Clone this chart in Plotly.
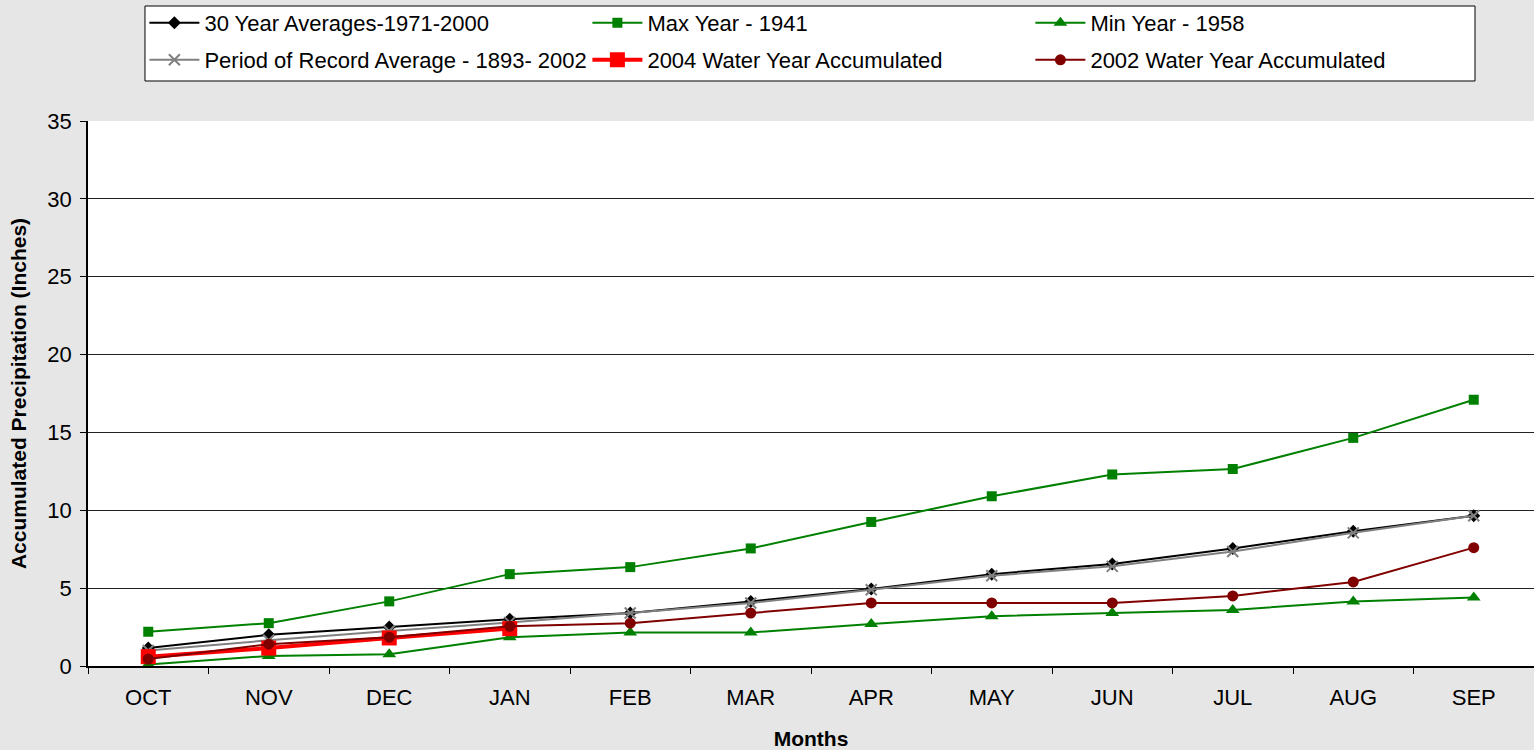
import plotly.graph_objects as go

months = ["OCT", "NOV", "DEC", "JAN", "FEB", "MAR", "APR", "MAY", "JUN", "JUL", "AUG", "SEP"]

avg_30yr = [1.15, 2.0, 2.5, 3.0, 3.4, 4.15, 4.95, 5.9, 6.55, 7.55, 8.65, 9.65]
max_1941 = [2.2, 2.75, 4.15, 5.9, 6.35, 7.55, 9.25, 10.9, 12.3, 12.65, 14.65, 17.1]
min_1958 = [0.1, 0.65, 0.75, 1.85, 2.15, 2.15, 2.7, 3.2, 3.4, 3.6, 4.15, 4.4]
por_avg = [1.0, 1.65, 2.25, 2.8, 3.4, 4.05, 4.9, 5.8, 6.4, 7.35, 8.55, 9.65]
wy_2004 = [0.6, 1.15, 1.8, 2.4]
wy_2002 = [0.45, 1.4, 1.85, 2.55, 2.75, 3.4, 4.05, 4.05, 4.05, 4.5, 5.4, 7.6]

names = ["30 Year Averages-1971-2000", "Max Year - 1941", "Min Year - 1958",
         "Period of Record Average - 1893- 2002", "2004 Water Year Accumulated",
         "2002 Water Year Accumulated"]

fig = go.Figure()
# row 1 of legend
fig.add_trace(go.Scatter(x=months, y=avg_30yr, name=names[0], mode="lines+markers", legend="legend",
                         line=dict(color="black", width=2),
                         marker=dict(symbol="diamond", size=10, color="black")))
fig.add_trace(go.Scatter(x=months, y=max_1941, name=names[1], mode="lines+markers", legend="legend",
                         line=dict(color="#008000", width=2),
                         marker=dict(symbol="square", size=10, color="#008000")))
fig.add_trace(go.Scatter(x=months, y=min_1958, name=names[2], mode="lines+markers", legend="legend",
                         line=dict(color="#008000", width=2),
                         marker=dict(symbol="triangle-up", size=12, color="#008000")))
# row 2 of legend
fig.add_trace(go.Scatter(x=months, y=por_avg, name=names[3], mode="lines+markers", legend="legend2",
                         line=dict(color="#808080", width=2),
                         marker=dict(symbol="x-thin", size=11, color="#808080",
                                     line=dict(color="#808080", width=2))))
fig.add_trace(go.Scatter(x=months[:len(wy_2004)], y=wy_2004, name=names[4], mode="lines+markers",
                         legend="legend2",
                         line=dict(color="#ff0000", width=4),
                         marker=dict(symbol="square", size=15, color="#ff0000")))
fig.add_trace(go.Scatter(x=months, y=wy_2002, name=names[5], mode="lines+markers", legend="legend2",
                         line=dict(color="#800000", width=2),
                         marker=dict(symbol="circle", size=11, color="#800000")))

leg_common = dict(
    orientation="h", x=0.039, xanchor="left", yanchor="middle",
    bgcolor="rgba(0,0,0,0)", borderwidth=0,
    entrywidth=378, entrywidthmode="pixels", itemwidth=50,
    font=dict(size=22, family="Liberation Sans, Arial, sans-serif", color="black"),
)

fig.update_layout(
    width=1534, height=750,
    paper_bgcolor="#e6e6e6",
    plot_bgcolor="white",
    margin=dict(l=88, r=0, t=121, b=84),
    font=dict(family="Liberation Sans, Arial, sans-serif", size=22, color="black"),
    showlegend=True,
    legend=dict(y=1.1798, **leg_common),
    legend2=dict(y=1.1119, **leg_common),
    shapes=[dict(type="rect", xref="paper", yref="paper",
                 x0=0.0394, x1=0.9592, y0=1.0734, y1=1.211,
                 fillcolor="white", line=dict(color="black", width=1), layer="below")],
    xaxis=dict(
        title=dict(text="<b>Months</b>", font=dict(size=21), standoff=22),
        type="category", showgrid=False, showline=True, linecolor="black", linewidth=2,
        ticks="outside", tickson="boundaries", ticklen=6, tickcolor="black",
        ticklabelstandoff=11,
        range=[-0.5, 11.5], fixedrange=True,
    ),
    yaxis=dict(
        title=dict(text="<b>Accumulated Precipitation (Inches)</b>", font=dict(size=21), standoff=15),
        range=[0, 35], dtick=5, showgrid=True, gridcolor="#222222", gridwidth=1,
        showline=True, linecolor="black", linewidth=1.5, ticks="outside", ticklen=6,
        tickcolor="black", zeroline=False, ticklabelstandoff=4,
    ),
)

fig.write_html("out.html", config={"displayModeBar": False},
               post_script="document.body.style.margin='0';")
